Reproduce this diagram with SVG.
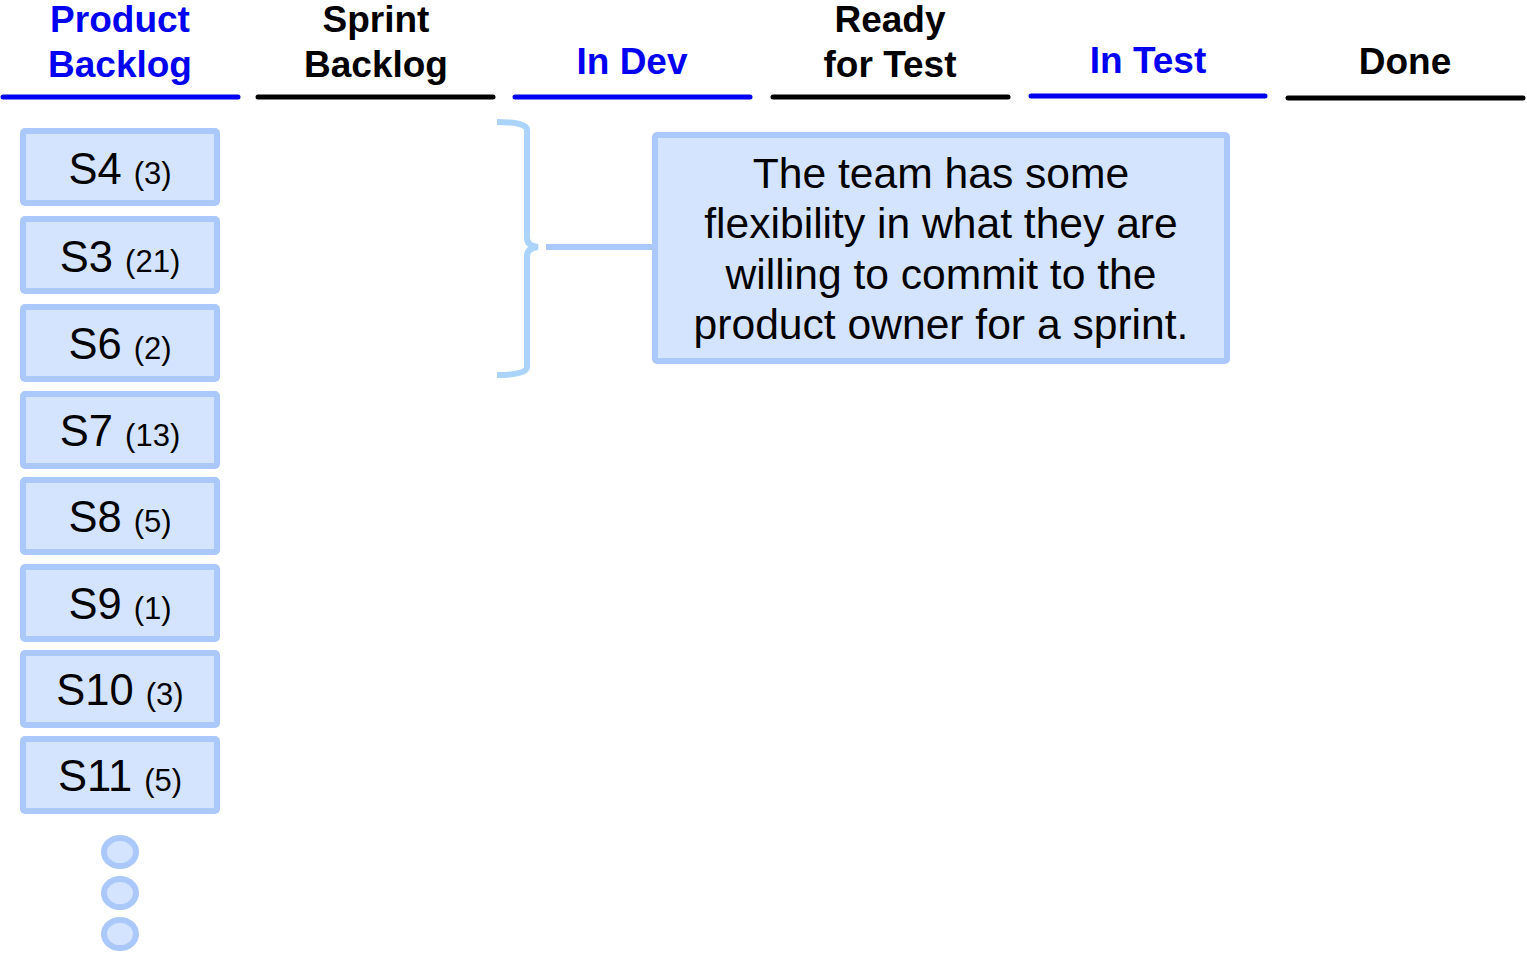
<svg xmlns="http://www.w3.org/2000/svg" width="1527" height="953" viewBox="0 0 1527 953">
<style>
.hd{font-family:"Liberation Sans",Arial,sans-serif;font-weight:bold;font-size:37px;text-anchor:middle}
.blue{fill:#0000f0}
.blk{fill:#000}
.hl{stroke-width:5;stroke-linecap:round;fill:none}
.card{fill:#d5e4fe;stroke:#aac8fa;stroke-width:6}
.ct{font-family:"Liberation Sans",Arial,sans-serif;font-size:43.5px;text-anchor:middle;fill:#000}
.sm{font-size:31px}
.note{font-family:"Liberation Sans",Arial,sans-serif;font-size:42.6px;text-anchor:middle;fill:#000}
</style>
<rect width="1527" height="953" fill="#fff"/>
<g id="headers">
<text class="hd blue" x="120" y="32">Product</text>
<text class="hd blue" x="120" y="77">Backlog</text>
<line class="hl" x1="3" y1="97" x2="238" y2="97" stroke="#0000f0"/>
<text class="hd blk" x="376" y="32">Sprint</text>
<text class="hd blk" x="376" y="77">Backlog</text>
<line class="hl" x1="258" y1="97" x2="493" y2="97" stroke="#000"/>
<text class="hd blue" x="632" y="74">In Dev</text>
<line class="hl" x1="515" y1="97" x2="750" y2="97" stroke="#0000f0"/>
<text class="hd blk" x="890" y="32">Ready</text>
<text class="hd blk" x="890" y="77">for Test</text>
<line class="hl" x1="773" y1="97" x2="1008" y2="97" stroke="#000"/>
<text class="hd blue" x="1148" y="73">In Test</text>
<line class="hl" x1="1031" y1="96" x2="1265" y2="96" stroke="#0000f0"/>
<text class="hd blk" x="1405" y="74">Done</text>
<line class="hl" x1="1288" y1="98" x2="1523" y2="98" stroke="#000"/>
</g>
<g id="S4"><rect class="card" x="23" y="131" width="194" height="72" rx="2"/><text class="ct" x="120" y="184">S4 <tspan class="sm">(3)</tspan></text></g>
<g id="S3"><rect class="card" x="23" y="219" width="194" height="72" rx="2"/><text class="ct" x="120" y="272">S3 <tspan class="sm">(21)</tspan></text></g>
<g id="S6"><rect class="card" x="23" y="307" width="194" height="72" rx="2"/><text class="ct" x="120" y="359">S6 <tspan class="sm">(2)</tspan></text></g>
<g id="S7"><rect class="card" x="23" y="394" width="194" height="72" rx="2"/><text class="ct" x="120" y="446">S7 <tspan class="sm">(13)</tspan></text></g>
<g id="S8"><rect class="card" x="23" y="480" width="194" height="72" rx="2"/><text class="ct" x="120" y="532">S8 <tspan class="sm">(5)</tspan></text></g>
<g id="S9"><rect class="card" x="23" y="567" width="194" height="72" rx="2"/><text class="ct" x="120" y="619">S9 <tspan class="sm">(1)</tspan></text></g>
<g id="S10"><rect class="card" x="23" y="653" width="194" height="72" rx="2"/><text class="ct" x="120" y="705">S10 <tspan class="sm">(3)</tspan></text></g>
<g id="S11"><rect class="card" x="23" y="739" width="194" height="72" rx="2"/><text class="ct" x="120" y="791">S11 <tspan class="sm">(5)</tspan></text></g>
<g id="more">
<ellipse cx="120" cy="852" rx="16" ry="14" fill="#d5e4fe" stroke="#aac8fa" stroke-width="6"/>
<ellipse cx="120" cy="893" rx="16" ry="14" fill="#d5e4fe" stroke="#aac8fa" stroke-width="6"/>
<ellipse cx="120" cy="934" rx="16" ry="14" fill="#d5e4fe" stroke="#aac8fa" stroke-width="6"/>
</g>
<g id="connectors">
<path d="M497,122 Q527,122 527,130 L527,238 Q527,246 538,247 Q527,248 527,256 L527,367 Q527,375 497,375" fill="none" stroke="#aad4fc" stroke-width="6"/>
<line x1="546" y1="247" x2="656" y2="247" stroke="#aac8fa" stroke-width="6"/>
</g>
<g id="note">
<rect class="card" x="655" y="135" width="572" height="226" rx="2"/>
<text class="note" x="941" y="188">The team has some</text>
<text class="note" x="941" y="238">flexibility in what they are</text>
<text class="note" x="941" y="289">willing to commit to the</text>
<text class="note" x="941" y="339">product owner for a sprint.</text>
</g>
</svg>
